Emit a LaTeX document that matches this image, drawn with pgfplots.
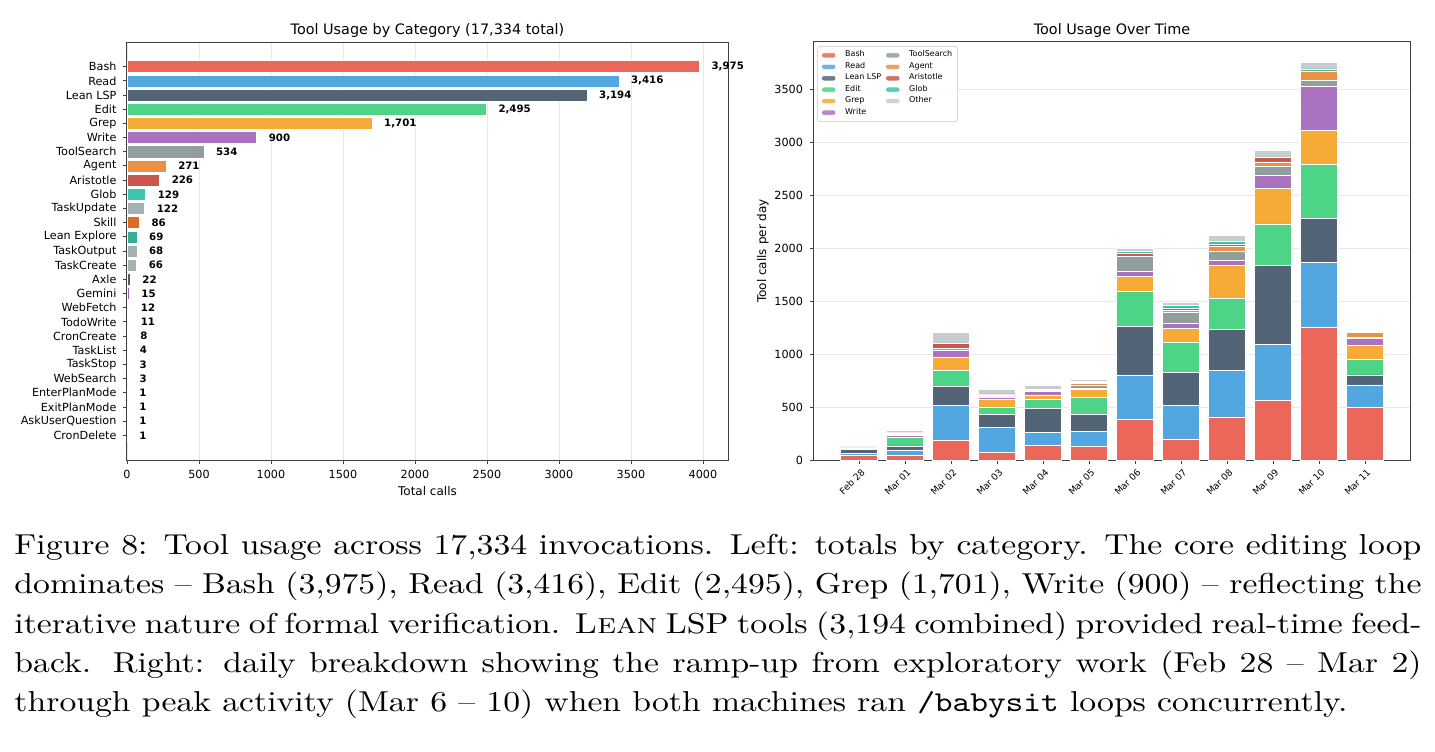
\documentclass[border=0pt]{standalone}
\usepackage{fontspec}
\setmainfont{lmroman10-regular.otf}[BoldFont=lmroman10-bold.otf, ItalicFont=lmroman10-italic.otf, BoldItalicFont=lmroman10-bolditalic.otf, SmallCapsFont=lmromancaps10-regular.otf]
\setmonofont{lmmono10-regular.otf}
\usepackage{pgfplots}
\usepackage{pgfplotstable}
\pgfplotsset{compat=1.18}
\newfontfamily\dv{DejaVu Sans}
\newcommand\ftick{\dv\fontsize{5.6}{7}\selectfont}
\newcommand\flab{\dv\fontsize{6}{7}\selectfont}
\newcommand\ftitle{\dv\fontsize{7.2}{8.5}\selectfont}
\newcommand\fval{\dv\bfseries\fontsize{5.1}{6}\selectfont}
\newcommand\fdate{\dv\fontsize{4.6}{5.5}\selectfont}
\newcommand\fleg{\dv\fontsize{4}{4.4}\selectfont}

\definecolor{cBash}{HTML}{E74C3C}
\definecolor{cRead}{HTML}{3498DB}
\definecolor{cLSP}{HTML}{34495E}
\definecolor{cEdit}{HTML}{2ECC71}
\definecolor{cGrep}{HTML}{F39C12}
\definecolor{cWrite}{HTML}{9B59B6}
\definecolor{cTS}{HTML}{7F8C8D}
\definecolor{cAgent}{HTML}{E67E22}
\definecolor{cAris}{HTML}{C0392B}
\definecolor{cGlob}{HTML}{1ABC9C}
\definecolor{cOther}{HTML}{BDC3C7}
\definecolor{cGrey}{HTML}{95A5A6}
\definecolor{cSkill}{HTML}{D35400}
\definecolor{cLE}{HTML}{16A085}
\definecolor{cAxle}{HTML}{2C3E50}
\definecolor{cGem}{HTML}{8E44AD}
\colorlet{fBash}{cBash!85!white}
\colorlet{fRead}{cRead!85!white}
\colorlet{fLSP}{cLSP!85!white}
\colorlet{fEdit}{cEdit!85!white}
\colorlet{fGrep}{cGrep!85!white}
\colorlet{fWrite}{cWrite!85!white}
\colorlet{fTS}{cTS!85!white}
\colorlet{fAgent}{cAgent!85!white}
\colorlet{fAris}{cAris!85!white}
\colorlet{fGlob}{cGlob!85!white}
\colorlet{fOther}{cOther!85!white}
\colorlet{fGrey}{cGrey!85!white}
\colorlet{fSkill}{cSkill!85!white}
\colorlet{fLE}{cLE!85!white}
\colorlet{fAxle}{cAxle!85!white}
\colorlet{fGem}{cGem!85!white}

\pgfplotsset{
  hb/.style={xbar, bar shift=0pt, bar width=0.85, draw=white, line width=0.25pt, fill=#1},
  sb/.style={fill=#1, draw=white, line width=0.25pt},
  common/.style={
    scale only axis,
    axis line style={black!75, line width=0.5pt},
    tick style={black!75, line width=0.45pt},
    tick align=outside, tick pos=left, major tick length=1.75pt,
    grid style={black!9, line width=0.45pt},
    tick label style={font=\ftick},
    label style={font=\flab},
    title style={font=\ftitle, yshift=-7.5pt},
    /pgf/number format/assume math mode=true,
    /pgf/number format/1000 sep={},
  }
}

\pgfplotstableread{
day Bash Read LSP Edit Grep Write TS Agent Aris Glob Other
0   47   13   38   13   2    2    6  1   1   4   8
1   46   50   37   83   3    17   3  2   15  3   25
2   183  334  180  148  126  69   2  14  47  2   99
3   73   234  128  67   69   27   5  8   6   8   47
4   136  125  224  87   45   32   3  5   8   2   43
5   126  144  165  158  72   9    37 16  10  6   17
6   381  423  457  331  142  50   142 5  27  16  31
7   201  313  318  284  129  51   104 16 22  22  30
8   407  438  388  293  312  47   88 44  26  25  54
9   561  532  748  392  333  124  88 41  40  7   60
10  1255 611  420  508  324  413  60 85  3   20  66
11  498  212  94   151  129  63   16 41  3   10  13
}\daily

\begin{document}
\begin{tikzpicture}
\useasboundingbox (-63.5pt,-145.5pt) rectangle (654pt,230pt);

% ---------------- left: totals ----------------
\begin{axis}[common,
  at={(0pt,0pt)}, anchor=south west,
  width=300.5pt, height=209pt,
  xmin=0, xmax=4173.75, ymin=-1.74, ymax=27.74, y dir=reverse,
  xtick={0,500,...,4000}, ytick={0,...,26},
  yticklabels={Bash,Read,Lean LSP,Edit,Grep,Write,ToolSearch,Agent,Aristotle,Glob,TaskUpdate,Skill,Lean Explore,TaskOutput,TaskCreate,Axle,Gemini,WebFetch,TodoWrite,CronCreate,TaskList,TaskStop,WebSearch,EnterPlanMode,ExitPlanMode,AskUserQuestion,CronDelete},
  xmajorgrids,
  xlabel={Total calls}, xlabel shift=-3pt,
  title={Tool Usage by Category (17,334 total)},
  point meta=x,
  nodes near coords={\pgfmathprintnumber[fixed,precision=0,1000 sep={,}]{\pgfplotspointmeta}},
  every node near coord/.style={anchor=west, inner sep=0pt, xshift=6pt, font=\fval, text=black},
]
\addplot[hb=fBash]  coordinates {(3975,0)};
\addplot[hb=fRead]  coordinates {(3416,1)};
\addplot[hb=fLSP]   coordinates {(3194,2)};
\addplot[hb=fEdit]  coordinates {(2495,3)};
\addplot[hb=fGrep]  coordinates {(1701,4)};
\addplot[hb=fWrite] coordinates {(900,5)};
\addplot[hb=fTS]    coordinates {(534,6)};
\addplot[hb=fAgent] coordinates {(271,7)};
\addplot[hb=fAris]  coordinates {(226,8)};
\addplot[hb=fGlob]  coordinates {(129,9)};
\addplot[hb=fGrey]  coordinates {(122,10)};
\addplot[hb=fSkill] coordinates {(86,11)};
\addplot[hb=fLE]    coordinates {(69,12)};
\addplot[hb=fGrey]  coordinates {(68,13)};
\addplot[hb=fGrey]  coordinates {(66,14)};
\addplot[hb=fAxle]  coordinates {(22,15)};
\addplot[hb=fGem]   coordinates {(15,16)};
\addplot[hb=fTS]    coordinates {(12,17)};
\addplot[hb=fGrey]  coordinates {(11,18)};
\addplot[hb=fGrey]  coordinates {(8,19)};
\addplot[hb=fGrey]  coordinates {(4,20)};
\addplot[hb=fGrey]  coordinates {(3,21)};
\addplot[hb=fGrey]  coordinates {(3,22)};
\addplot[hb=fGrey]  coordinates {(1,23)};
\addplot[hb=fGrey]  coordinates {(1,24)};
\addplot[hb=fGrey]  coordinates {(1,25)};
\addplot[hb=fGrey]  coordinates {(1,26)};
\end{axis}

% ---------------- right: daily stacked ----------------
\begin{axis}[common,
  at={(343.25pt,0pt)}, anchor=south west,
  width=298.5pt, height=209pt,
  ybar stacked, bar width=0.8,
  xmin=-0.99, xmax=11.99, ymin=0, ymax=3953,
  xtick={0,...,11},
  xticklabels={Feb 28,Mar 01,Mar 02,Mar 03,Mar 04,Mar 05,Mar 06,Mar 07,Mar 08,Mar 09,Mar 10,Mar 11},
  xticklabel style={font=\fdate, rotate=45, anchor=north east, inner sep=1pt, yshift=-1pt},
  ytick={0,500,...,3500},
  ymajorgrids,
  ylabel={Tool calls per day}, ylabel shift=-4pt,
  title={Tool Usage Over Time},
  area legend,
  legend columns=6, transpose legend,
  legend image code/.code={\fill[#1] (0pt,-1.25pt) rectangle (7pt,1.25pt);},
  legend cell align=left,
  legend style={at={(0.006,0.99)}, anchor=north west, font=\fleg,
    draw=black!15, rounded corners=1pt, fill=white, fill opacity=0.85, text opacity=1,
    inner xsep=2pt, inner ysep=1.5pt, row sep=0pt,
    nodes={inner sep=0.6pt},
    /tikz/every even column/.append style={column sep=1.5pt},
    /tikz/every odd column/.append style={column sep=4pt}},
]
\addplot[sb=fBash]  table[x=day,y=Bash]{\daily};
\addplot[sb=fRead]  table[x=day,y=Read]{\daily};
\addplot[sb=fLSP]   table[x=day,y=LSP]{\daily};
\addplot[sb=fEdit]  table[x=day,y=Edit]{\daily};
\addplot[sb=fGrep]  table[x=day,y=Grep]{\daily};
\addplot[sb=fWrite] table[x=day,y=Write]{\daily};
\addplot[sb=fTS]    table[x=day,y=TS]{\daily};
\addplot[sb=fAgent] table[x=day,y=Agent]{\daily};
\addplot[sb=fAris]  table[x=day,y=Aris]{\daily};
\addplot[sb=fGlob]  table[x=day,y=Glob]{\daily};
\addplot[sb=fOther] table[x=day,y=Other]{\daily};
\legend{Bash,Read,Lean LSP,Edit,Grep,Write,ToolSearch,Agent,Aristotle,Glob,Other}
\end{axis}

% ---------------- caption ----------------
\node[anchor=north west, inner sep=0pt, xscale=1.17, text width=601.3pt, align=justify,
      font=\fontsize{14.4}{19.7}\selectfont] at (-56.5pt,-36.8pt)
{Figure 8: Tool usage across 17,334 invocations. Left: totals by category. The core editing loop\linebreak
dominates -- Bash (3,975), Read (3,416), Edit (2,495), Grep (1,701), Write (900) -- reflecting the\linebreak
iterative nature of formal verification. \textsc{Lean} LSP tools (3,194 combined) provided real-time feed-\linebreak
back. Right: daily breakdown showing the ramp-up from exploratory work (Feb 28 -- Mar 2)\linebreak
through peak activity (Mar 6 -- 10) when both machines ran \texttt{/babysit} loops concurrently.};
\end{tikzpicture}
\end{document}
